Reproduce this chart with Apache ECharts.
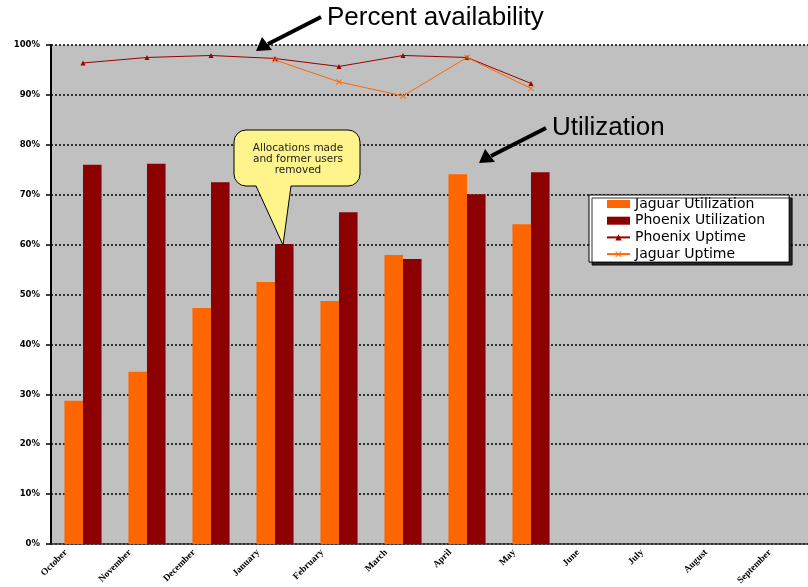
<!DOCTYPE html>
<html><head><meta charset="utf-8">
<script src="https://cdn.jsdelivr.net/npm/echarts@6/dist/echarts.min.js"></script>
<style>html,body{margin:0;padding:0;background:#fff}#c{width:808px;height:587px}</style>
</head><body><div id="c"></div>
<script>
const months = ['October','November','December','January','February','March','April','May','June','July','August','September'];
const jaguarUtil = [28.7, 34.5, 47.3, 52.5, 48.7, 57.9, 74.1, 64.1, null, null, null, null];
const phoenixUtil = [76.0, 76.2, 72.5, 60.1, 66.5, 57.1, 70.1, 74.5, null, null, null, null];
const phoenixUptime = [96.4, 97.5, 97.9, 97.3, 95.7, 97.9, 97.5, 92.3, null, null, null, null];
const jaguarUptime = [null, null, null, 97.0, 92.6, 89.8, 97.5, 91.3, null, null, null, null];
const yTicks = [0,10,20,30,40,50,60,70,80,90,100];

const chart = echarts.init(document.getElementById('c'), null, {renderer:'canvas'});
const xMark = 'path://M0,1L1,0L5,4L9,0L10,1L6,5L10,9L9,10L5,6L1,10L0,9L4,5Z';
chart.setOption({
  animation:false,
  backgroundColor:'#fff',
  grid:{left:51, top:45, right:-11, height:499, show:true, backgroundColor:'#C0C0C0', borderWidth:0,
    outerBoundsMode:'none', containLabel:false},
  xAxis:{type:'category', data:months,
    axisLine:{show:true, lineStyle:{color:'#333', width:1.5}},
    axisTick:{show:false},
    axisLabel:{interval:0, rotate:45, margin:-10,
      formatter:v=>'{a|'+v+'}',
      rich:{a:{fontFamily:'Liberation Serif', fontWeight:'bold', fontSize:9.5, color:'#000', padding:[0,24,0,0]}}}
  },
  yAxis:{type:'value', min:0, max:100, interval:10,
    axisLine:{show:true, lineStyle:{color:'#000', width:2}},
    axisTick:{show:true, length:5, lineStyle:{color:'#000', width:1.5}},
    axisLabel:{formatter:'{value}%', fontFamily:'DejaVu Sans', fontWeight:'bold', fontSize:8.5, color:'#000', margin:11},
    splitLine:{show:true, lineStyle:{color:'#000', type:[2,2], width:1.5}}
  },
  legend:{orient:'vertical', left:589, top:195,
    backgroundColor:'#fff', borderColor:'#000', borderWidth:1,
    shadowColor:'rgba(0,0,0,0.8)', shadowOffsetX:3, shadowOffsetY:3, shadowBlur:0,
    padding:[1,24,0,17], itemGap:0.7, itemWidth:23, itemHeight:8,
    textStyle:{fontFamily:'DejaVu Sans', fontSize:14, color:'#000', lineHeight:16},
    data:[
      {name:'Jaguar Utilization', icon:'rect'},
      {name:'Phoenix Utilization', icon:'rect'},
      {name:'Phoenix Uptime'},
      {name:'Jaguar Uptime'}
    ]
  },
  series:[
    {name:'Jaguar Utilization', type:'bar', data:jaguarUtil, itemStyle:{color:'#FF6600'}, barGap:'0%', barCategoryGap:'42%'},
    {name:'Phoenix Utilization', type:'bar', data:phoenixUtil, itemStyle:{color:'#8B0000'}},
    {name:'Phoenix Uptime', type:'line', data:phoenixUptime, symbol:'triangle', symbolSize:5, connectNulls:false,
      lineStyle:{color:'#990000', width:1}, itemStyle:{color:'#990000'}},
    {name:'Jaguar Uptime', type:'line', data:jaguarUptime, symbol:xMark, symbolSize:6,
      lineStyle:{color:'#FF6600', width:1}, itemStyle:{color:'#FF6600'}}
  ],
  graphic:[
    {type:'text', z:100, x:327, y:5, style:{text:'Percent availability', font:'26px "Liberation Sans"', fill:'#000'}},
    {type:'line', z:100, shape:{x1:321, y1:17, x2:268, y2:44}, style:{stroke:'#000', lineWidth:4}},
    {type:'polygon', z:100, shape:{points:[[256,51],[262,37],[272,50]]}, style:{fill:'#000'}},
    {type:'text', z:100, x:552, y:115, style:{text:'Utilization', font:'26px "Liberation Sans"', fill:'#000'}},
    {type:'line', z:100, shape:{x1:546, y1:128, x2:491, y2:156}, style:{stroke:'#000', lineWidth:4}},
    {type:'polygon', z:100, shape:{points:[[479,163],[485,149],[495,162]]}, style:{fill:'#000'}},
    {type:'rect', z:100, shape:{x:234, y:130, width:126, height:56, r:12}, style:{fill:'#FFF38C', stroke:'#000', lineWidth:1}},
    {type:'polygon', z:101, shape:{points:[[256,185],[291,185],[283,245]]}, style:{fill:'#FFF38C'}},
    {type:'polyline', z:102, shape:{points:[[256,186],[283,245],[291,186]]}, style:{stroke:'#000', lineWidth:1, fill:null}},
    {type:'text', z:103, x:298, y:143, style:{text:'Allocations made\nand former users\nremoved', font:'10.5px "DejaVu Sans"', fill:'#222', align:'center', lineHeight:11}}
  ]
});
</script></body></html>
